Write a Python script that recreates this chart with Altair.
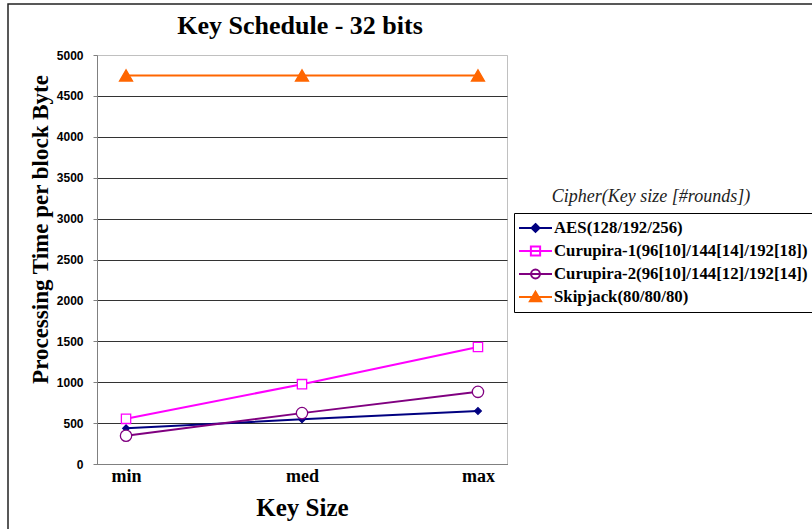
import altair as alt
import pandas as pd

categories = ["min", "med", "max"]
series_names = [
    "AES(128/192/256)",
    "Curupira-1(96[10]/144[14]/192[18])",
    "Curupira-2(96[10]/144[12]/192[14])",
    "Skipjack(80/80/80)",
]
aes = [436, 546, 648]
curupira1 = [552, 976, 1430]
curupira2 = [346, 622, 882]
skipjack = [4750, 4750, 4750]

colors = ["#000080", "#FF00FF", "#800080", "#FF6600"]
fills = ["#000080", "white", "white", "#FF6600"]
shapes = ["diamond", "square", "circle", "triangle-up"]
sizes = [45, 170, 150, 170]
legend_shapes = [
    "M-1,0H1M0,-0.24L0.24,0L0,0.24L-0.24,0Z",
    "M-1,0H1M-0.28,-0.28H0.28V0.28H-0.28Z",
    "M-1,0H1M0.27,0A0.27,0.27 0 1,1 -0.27,0A0.27,0.27 0 1,1 0.27,0Z",
    "M-1,0H1M0,-0.32L0.34,0.26L-0.34,0.26Z",
]

rows = []
for name, vals in zip(series_names, [aes, curupira1, curupira2, skipjack]):
    for c, v in zip(categories, vals):
        rows.append({"series": name, "size_cat": c, "value": v})
df = pd.DataFrame(rows)

SERIF = "Liberation Serif"
SANS = "Liberation Sans"

x_enc = alt.X(
    "size_cat:N",
    sort=categories,
    scale=alt.Scale(type="point", padding=0.165),
    axis=alt.Axis(
        title="Key Size",
        labelAngle=0,
        labelFont=SERIF,
        labelFontSize=18,
        labelFontWeight="bold",
        labelColor="black",
        labelPadding=3,
        ticks=False,
        titleFont=SERIF,
        titleFontSize=25,
        titleFontWeight="bold",
        titleColor="black",
        titlePadding=10,
        domainColor="#808080",
        grid=False,
    ),
)
y_enc = alt.Y(
    "value:Q",
    scale=alt.Scale(domain=[0, 5000], nice=False),
    axis=alt.Axis(
        title="Processing Time per block Byte",
        values=list(range(0, 5001, 500)),
        format="d",
        labelFont=SANS,
        labelFontSize=12,
        labelFontWeight="bold",
        labelColor="black",
        labelPadding=10,
        tickSize=4,
        tickColor="#808080",
        titleFont=SERIF,
        titleFontSize=23,
        titleFontWeight="bold",
        titleColor="black",
        titlePadding=4,
        titleY=174,
        domainColor="#808080",
        gridColor=alt.condition(alt.datum.value >= 5000, alt.value("#c0c0c0"), alt.value("#333333")),
        gridWidth=1,
    ),
)
color_enc = alt.Color(
    "series:N",
    scale=alt.Scale(domain=series_names, range=colors),
    legend=None,
)

lines = alt.Chart(df).mark_line(strokeWidth=2).encode(
    x=x_enc, y=y_enc, color=color_enc, detail="series:N"
)

points = alt.Chart(df).mark_point(filled=False, opacity=1, strokeWidth=1.3).encode(
    x=x_enc,
    y=y_enc,
    color=color_enc,
    fill=alt.Fill("series:N", scale=alt.Scale(domain=series_names, range=fills), legend=None),
    shape=alt.Shape("series:N", scale=alt.Scale(domain=series_names, range=shapes), legend=None),
    size=alt.Size("series:N", scale=alt.Scale(domain=series_names, range=sizes), legend=None),
)

legend_props = dict(
    orient="none",
    legendX=417,
    legendY=158,
    title=None,
    labelFont=SERIF,
    labelFontSize=16.8,
    labelFontWeight="bold",
    labelColor="black",
    labelLimit=400,
    labelOffset=1,
    symbolSize=1089,
    symbolStrokeWidth=2,
    clipHeight=22,
    rowPadding=1,
    padding=4,
    strokeColor="black",
    fillColor="white",
)

legend_layer = (
    alt.Chart(df)
    .transform_filter(alt.datum.value < 0)
    .mark_point(filled=False, opacity=1)
    .encode(
        color=alt.Color("series:N", scale=alt.Scale(domain=series_names, range=colors),
                        legend=alt.Legend(**legend_props)),
        fill=alt.Fill("series:N", scale=alt.Scale(domain=series_names, range=fills),
                      legend=alt.Legend(**legend_props)),
        shape=alt.Shape("series:N", scale=alt.Scale(domain=series_names, range=legend_shapes),
                        legend=alt.Legend(**legend_props)),
    )
)

legend_title = alt.Chart(pd.DataFrame({"t": ["Cipher(Key size [#rounds])"]})).mark_text(
    font=SERIF, fontSize=18, fontStyle="italic", color="#222222", align="center", baseline="middle"
).encode(text="t:N", x=alt.value(554), y=alt.value(142))

chart_title = alt.Chart(pd.DataFrame({"t": ["Key Schedule - 32 bits"]})).mark_text(
    font=SERIF, fontSize=26, fontWeight="bold", color="black", align="center", baseline="alphabetic"
).encode(text="t:N", x=alt.value(203), y=alt.value(-21))

frame = alt.Chart(pd.DataFrame({"t": [0]})).mark_rect(
    fill=None, stroke="#222222", strokeWidth=1.5
).encode(x=alt.value(-89), x2=alt.value(760), y=alt.value(-51), y2=alt.value(520))

chart = (
    alt.layer(frame, lines, points, legend_layer, legend_title, chart_title)
    .resolve_scale(color="independent", fill="independent", shape="independent", size="independent")
    .resolve_legend(color="independent", fill="independent", shape="independent", size="independent")
    .properties(
        width=410,
        height=409,
        padding={"left": 97, "top": 55, "right": 305, "bottom": 65},
        autosize=alt.AutoSizeParams(type="none"),
        background="white",
    )
    .configure_view(stroke="#c0c0c0", strokeWidth=1)
)

chart.save("out.html", embed_options={"renderer": "svg", "actions": False})
